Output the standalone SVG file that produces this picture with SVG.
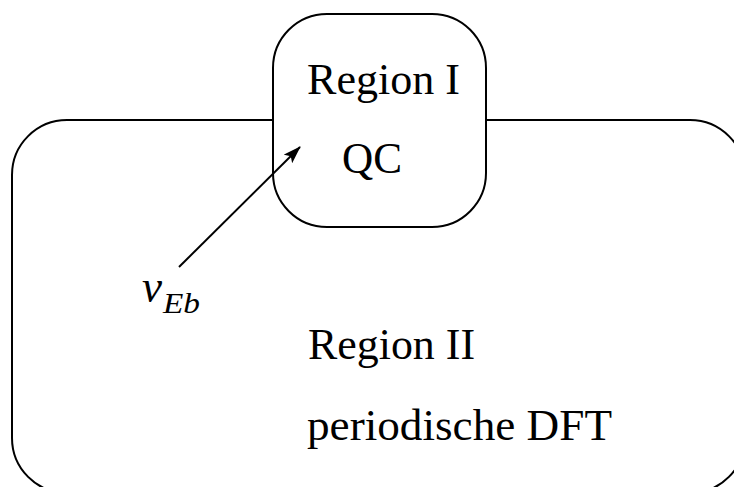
<svg xmlns="http://www.w3.org/2000/svg" width="734" height="487" viewBox="0 0 734 487">
<style>
.box{fill:#fff;stroke:#000;stroke-width:2}
.t{font-family:"Liberation Serif","DejaVu Serif",serif;font-size:45px;fill:#000}
.m{font-family:"Liberation Serif","DejaVu Serif",serif;font-style:italic;fill:#000}
</style>
<defs>
<marker id="ah" markerWidth="18" markerHeight="12" refX="17" refY="6" orient="auto" markerUnits="userSpaceOnUse" viewBox="0 0 18 12">
<path d="M0,0 L18,6 L0,12 L4,6 Z" fill="#000"/>
</marker>
</defs>
<rect width="734" height="487" fill="#fff"/>
<g id="region2">
<rect class="box" x="12" y="120" width="733" height="373" rx="55" ry="55"/>
<text class="t" x="308" y="359" textLength="167" lengthAdjust="spacingAndGlyphs">Region II</text>
<text class="t" x="307" y="440" textLength="305" lengthAdjust="spacingAndGlyphs">periodische DFT</text>
</g>
<g id="region1">
<rect class="box" x="273" y="14" width="213" height="213" rx="54" ry="54"/>
<text class="t" x="307" y="94" textLength="153" lengthAdjust="spacingAndGlyphs">Region I</text>
<text class="t" x="342" y="173" textLength="60" lengthAdjust="spacingAndGlyphs">QC</text>
</g>
<g id="connectors">
<line x1="179" y1="267" x2="300" y2="147" stroke="#000" stroke-width="2" marker-end="url(#ah)"/>
</g>
<g id="label">
<text class="m" x="142" y="302" font-size="46" textLength="20" lengthAdjust="spacingAndGlyphs">ν</text>
<text class="m" x="163" y="313" font-size="30" textLength="37" lengthAdjust="spacingAndGlyphs">Eb</text>
</g>
</svg>
